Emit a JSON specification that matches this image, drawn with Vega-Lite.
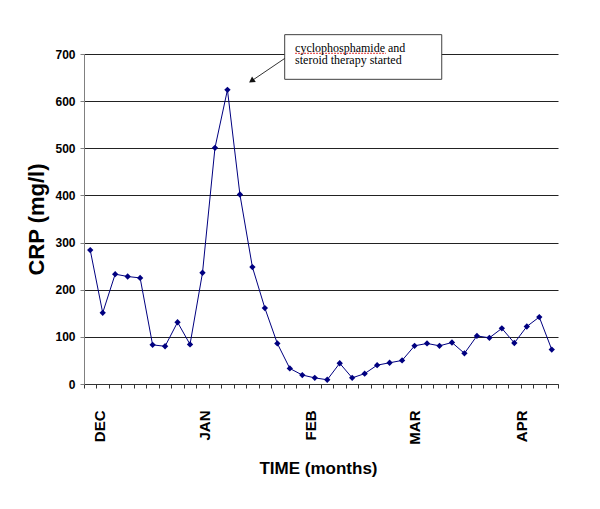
{
  "$schema": "https://vega.github.io/schema/vega-lite/v6.json",
  "width": 474,
  "height": 330,
  "autosize": {"type": "none"},
  "padding": {"left": 84, "top": 54, "right": 42, "bottom": 125},
  "background": "white",
  "config": {
    "view": {"stroke": null},
    "font": "Liberation Sans",
    "axisX": {"labelOverlap": false, "labelFlush": false, "labelBound": false},
    "axisY": {"labelOverlap": false}
  },
  "datasets": {
    "crp": [
      {"i": 0, "crp": 284}, {"i": 1, "crp": 151}, {"i": 2, "crp": 233}, {"i": 3, "crp": 228},
      {"i": 4, "crp": 225}, {"i": 5, "crp": 83}, {"i": 6, "crp": 80}, {"i": 7, "crp": 131},
      {"i": 8, "crp": 84}, {"i": 9, "crp": 236}, {"i": 10, "crp": 501}, {"i": 11, "crp": 624},
      {"i": 12, "crp": 402}, {"i": 13, "crp": 248}, {"i": 14, "crp": 161}, {"i": 15, "crp": 86},
      {"i": 16, "crp": 33}, {"i": 17, "crp": 19}, {"i": 18, "crp": 13}, {"i": 19, "crp": 9},
      {"i": 20, "crp": 44}, {"i": 21, "crp": 13}, {"i": 22, "crp": 22}, {"i": 23, "crp": 40},
      {"i": 24, "crp": 45}, {"i": 25, "crp": 50}, {"i": 26, "crp": 81}, {"i": 27, "crp": 86},
      {"i": 28, "crp": 81}, {"i": 29, "crp": 88}, {"i": 30, "crp": 65}, {"i": 31, "crp": 102},
      {"i": 32, "crp": 98}, {"i": 33, "crp": 118}, {"i": 34, "crp": 87}, {"i": 35, "crp": 122},
      {"i": 36, "crp": 142}, {"i": 37, "crp": 73}
    ]
  },
  "layer": [
    {
      "data": {"name": "crp"},
      "mark": {"type": "line", "color": "#000080", "strokeWidth": 1},
      "encoding": {
        "x": {
          "field": "i",
          "type": "quantitative",
          "scale": {"domain": [-0.5, 37.5], "nice": false, "zero": false},
          "axis": {
            "values": [-0.5, 0.5, 0.73, 1.5, 2.5, 3.5, 4.5, 5.5, 6.5, 7.5, 8.5, 9.2, 9.5, 10.5, 11.5, 12.5, 13.5, 14.5, 15.5, 16.5, 17.5, 17.62, 18.5, 19.5, 20.5, 21.5, 22.5, 23.5, 24.5, 25.5, 26.03, 26.5, 27.5, 28.5, 29.5, 30.5, 31.5, 32.5, 33.5, 34.5, 34.59, 35.5, 36.5, 37.5],
            "tickCount": 500,
            "labelExpr": "datum.value == 0.73 ? 'DEC' : datum.value == 9.2 ? 'JAN' : datum.value == 17.62 ? 'FEB' : datum.value == 26.03 ? 'MAR' : datum.value == 34.59 ? 'APR' : ''",
            "labelAngle": -90,
            "labelFont": "Liberation Sans",
            "labelFontWeight": "bold",
            "labelFontSize": 15,
            "labelColor": "#000000",
            "labelPadding": 22,
            "labelOverlap": false,
            "labelFlush": false,
            "labelBound": false,
            "tickSize": 4,
            "tickColor": "#333333",
            "tickOpacity": {"condition": {"test": "abs(datum.value % 1) == 0.5", "value": 1}, "value": 0},
            "domainColor": "#333333",
            "grid": false,
            "title": "TIME (months)",
            "titleFont": "Liberation Sans",
            "titleFontWeight": "bold",
            "titleFontSize": 17,
            "titleColor": "#000000",
            "titleX": 234,
            "titleY": 89,
            "titleAlign": "center",
            "titleBaseline": "alphabetic"
          }
        },
        "y": {
          "field": "crp",
          "type": "quantitative",
          "scale": {"domain": [0, 700], "nice": false, "zero": true},
          "axis": {
            "values": [0, 100, 200, 300, 400, 500, 600, 700],
            "tickCount": 50,
            "grid": true,
            "gridColor": "#222222",
            "gridWidth": 1,
            "domainColor": "#808080",
            "tickColor": "#808080",
            "tickSize": 4,
            "labelFont": "Liberation Sans",
            "labelFontWeight": "bold",
            "labelFontSize": 12,
            "labelColor": "#000000",
            "labelPadding": 5,
            "title": "CRP (mg/l)",
            "titleFont": "Liberation Sans",
            "titleFontWeight": "bold",
            "titleFontSize": 22,
            "titleColor": "#000000",
            "titleAngle": -90,
            "titleX": -41,
            "titleY": 165,
            "titleAlign": "center",
            "titleBaseline": "alphabetic"
          }
        }
      }
    },
    {
      "data": {"name": "crp"},
      "mark": {"type": "point", "shape": "diamond", "filled": true, "size": 40, "color": "#000080", "opacity": 1},
      "encoding": {
        "x": {"field": "i", "type": "quantitative"},
        "y": {"field": "crp", "type": "quantitative"}
      }
    },
    {
      "data": {"values": [{"i": 15.59, "i2": 28.18, "crp": 741, "crp2": 646.3}]},
      "mark": {"type": "rect", "fill": "white", "stroke": "#404040", "strokeWidth": 1},
      "encoding": {
        "x": {"field": "i", "type": "quantitative"},
        "x2": {"field": "i2"},
        "y": {"field": "crp", "type": "quantitative"},
        "y2": {"field": "crp2"}
      }
    },
    {
      "data": {"values": [{"i": 16.42, "i2": 23.7, "crp": 701.5}]},
      "mark": {"type": "rule", "color": "#e03030", "strokeWidth": 1, "strokeDash": [2, 1]},
      "encoding": {
        "x": {"field": "i", "type": "quantitative"},
        "x2": {"field": "i2"},
        "y": {"field": "crp", "type": "quantitative"}
      }
    },
    {
      "data": {"values": [
        {"i": 16.42, "crp": 704.9, "label": "cyclophosphamide and"},
        {"i": 16.42, "crp": 678.2, "label": "steroid therapy started"}
      ]},
      "mark": {"type": "text", "align": "left", "baseline": "alphabetic", "font": "Liberation Serif", "fontSize": 12, "color": "#000000"},
      "encoding": {
        "x": {"field": "i", "type": "quantitative"},
        "y": {"field": "crp", "type": "quantitative"},
        "text": {"field": "label"}
      }
    },
    {
      "data": {"values": [{"i": 15.61, "crp": 690.9, "i2": 12.93, "crp2": 642.9}]},
      "mark": {"type": "rule", "color": "#333333", "strokeWidth": 1},
      "encoding": {
        "x": {"field": "i", "type": "quantitative"},
        "y": {"field": "crp", "type": "quantitative"},
        "x2": {"field": "i2"},
        "y2": {"field": "crp2"}
      }
    },
    {
      "data": {"values": [{"i": 12.93, "crp": 642.9}]},
      "mark": {"type": "point", "shape": "triangle-up", "filled": true, "size": 45, "angle": 236, "color": "#111111", "opacity": 1},
      "encoding": {
        "x": {"field": "i", "type": "quantitative"},
        "y": {"field": "crp", "type": "quantitative"}
      }
    }
  ]
}
